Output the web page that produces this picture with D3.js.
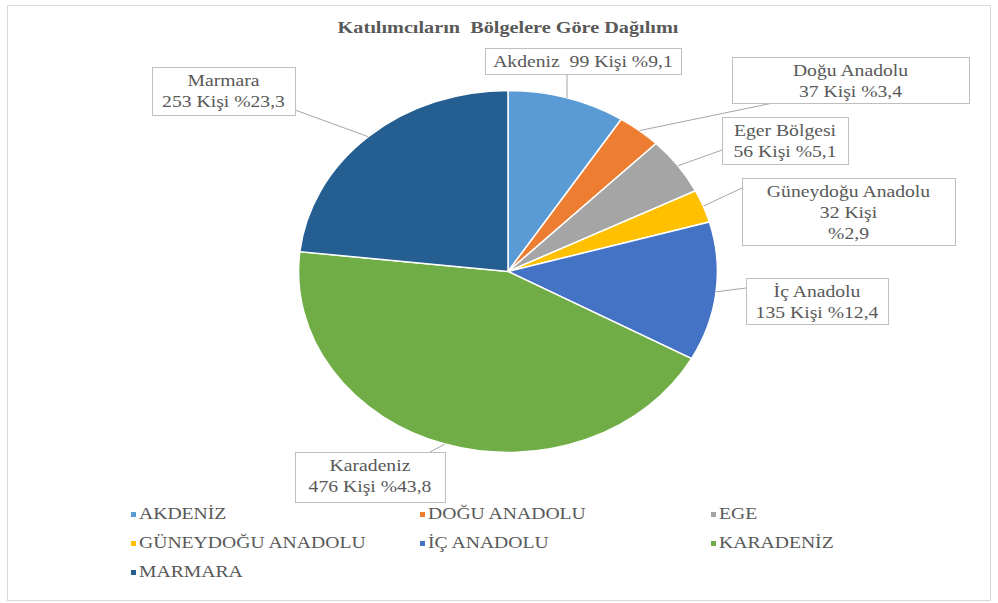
<!DOCTYPE html>
<html>
<head>
<meta charset="utf-8">
<script src="https://cdn.jsdelivr.net/npm/d3@7"></script>
<style>
  body { margin: 0; background: #fff; }
</style>
</head>
<body>
<div id="chart"></div>
<script>
// data
const regions = ["Akdeniz", "Doğu Anadolu", "Eger Bölgesi", "Güneydoğu Anadolu", "İç Anadolu", "Karadeniz", "Marmara"];
const legendNames = ["AKDENİZ", "DOĞU ANADOLU", "EGE", "GÜNEYDOĞU ANADOLU", "İÇ ANADOLU", "KARADENİZ", "MARMARA"];
const counts = [99, 37, 56, 32, 135, 476, 253];
const percents = ["9,1", "3,4", "5,1", "2,9", "12,4", "43,8", "23,3"];
const colors = ["#5B9BD5", "#ED7D31", "#A5A5A5", "#FFC000", "#4472C4", "#70AD47", "#255E91"];

const width = 998, height = 603;
const sx = 1.157;          // reference picture is stretched horizontally
const cx = 508, cy = 271.5, r = 181;
const font = "Liberation Serif";

// label boxes (layout only)
const boxes = [
  { x: 485, y: 48, w: 196, h: 26, mode: 1, ax: 567, ay: 74 },
  { x: 732, y: 57, w: 237, h: 46, mode: 2, ax: 773, ay: 103 },
  { x: 722, y: 117, w: 126, h: 47, mode: 2, ax: 722, ay: 150 },
  { x: 742, y: 178, w: 213, h: 67, mode: 3, ax: 742, ay: 188 },
  { x: 746, y: 278, w: 142, h: 46, mode: 2, ax: 746, ay: 288 },
  { x: 295, y: 452, w: 150, h: 50, mode: 2, ax: 430, ay: 452 },
  { x: 152, y: 67, w: 143, h: 48, mode: 2, ax: 295, ay: 110 }
];

function lines(i) {
  const m = boxes[i].mode;
  if (m === 1) return [regions[i] + "  " + counts[i] + " Kişi %" + percents[i]];
  if (m === 3) return [regions[i], counts[i] + " Kişi", "%" + percents[i]];
  return [regions[i], counts[i] + " Kişi %" + percents[i]];
}

const svg = d3.select("#chart").append("svg")
  .attr("width", width)
  .attr("height", height)
  .attr("font-family", font)
  .style("display", "block");

// chart border
svg.append("rect")
  .attr("x", 7.5).attr("y", 5.5)
  .attr("width", 983).attr("height", 595)
  .attr("fill", "#fff")
  .attr("stroke", "#d9d9d9");

// title
svg.append("text")
  .attr("transform", `translate(508,33) scale(${sx},1)`)
  .attr("text-anchor", "middle")
  .attr("font-family", font)
  .attr("font-size", 17.5)
  .attr("font-weight", "bold")
  .attr("fill", "#595959")
  .style("white-space", "pre")
  .text("Katılımcıların  Bölgelere Göre Dağılımı");

// pie
const pie = d3.pie().sort(null).value(d => d);
const arcs = pie(counts);
const arc = d3.arc().innerRadius(0).outerRadius(r);

const g = svg.append("g")
  .attr("transform", `translate(${cx},${cy}) scale(${sx},1)`);

g.selectAll("path")
  .data(arcs)
  .enter()
  .append("path")
  .attr("d", arc)
  .attr("fill", (d, i) => colors[i])
  .attr("stroke", "#fff")
  .attr("stroke-width", 1.5)
  .attr("vector-effect", "non-scaling-stroke");

// leader lines
arcs.forEach((d, i) => {
  const a = (d.startAngle + d.endAngle) / 2;
  const px = cx + r * sx * Math.sin(a);
  const py = cy - r * Math.cos(a);
  svg.append("line")
    .attr("x1", px).attr("y1", py)
    .attr("x2", boxes[i].ax).attr("y2", boxes[i].ay)
    .attr("stroke", "#a6a6a6")
    .attr("stroke-width", 1);
});

// label boxes
boxes.forEach((b, i) => {
  svg.append("rect")
    .attr("x", b.x + 0.5).attr("y", b.y + 0.5)
    .attr("width", b.w).attr("height", b.h)
    .attr("fill", "#fff")
    .attr("stroke", "#bfbfbf");
  lines(i).forEach((t, k) => {
    svg.append("text")
      .attr("transform", `translate(${b.x + b.w / 2},${b.y + 19 + k * 21}) scale(${sx},1)`)
      .attr("text-anchor", "middle")
      .attr("font-family", font)
      .attr("font-size", 17)
      .attr("fill", "#595959")
      .style("white-space", "pre")
      .text(t);
  });
});

// legend
const colX = [131, 420, 711];
const rowY = [519, 548, 577];
let row = 0, col = 0, prevEnd = 0;
legendNames.forEach((name, i) => {
  let x = colX[col];
  if (col > 0 && prevEnd + 6 > x) x = prevEnd + 6;
  const lg = svg.append("g").attr("transform", `translate(${x},${rowY[row]})`);
  lg.append("rect")
    .attr("x", 0).attr("y", -7)
    .attr("width", 5).attr("height", 5)
    .attr("fill", colors[i]);
  const t = lg.append("text")
    .attr("transform", `translate(8,0) scale(${sx},1)`)
    .attr("font-family", font)
    .attr("font-size", 17)
    .attr("fill", "#595959")
    .text(name);
  prevEnd = x + 8 + t.node().getComputedTextLength() * sx;
  col++;
  if (col > 2) { col = 0; row++; prevEnd = 0; }
});
</script>
</body>
</html>
